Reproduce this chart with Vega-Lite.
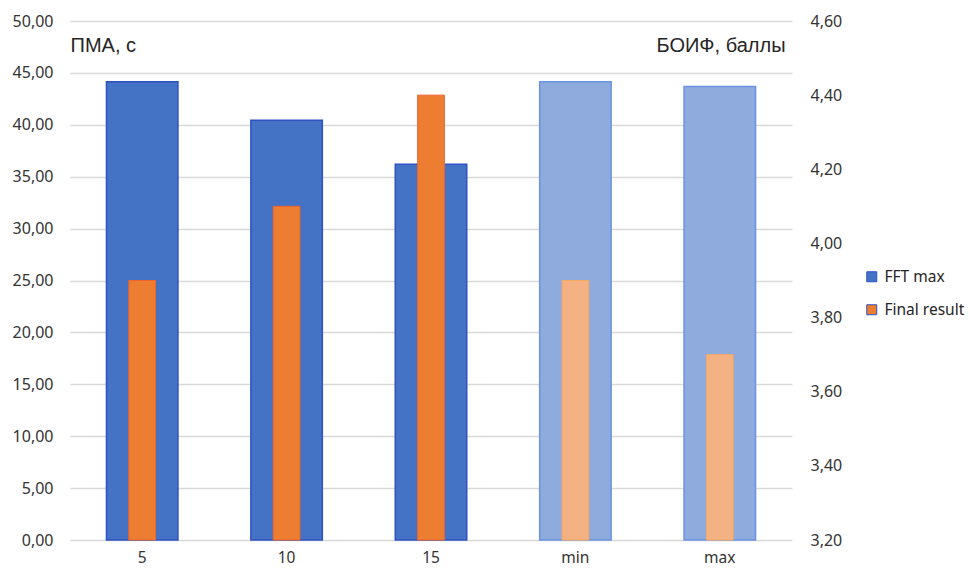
{
  "$schema": "https://vega.github.io/schema/vega-lite/v6.json",
  "autosize": "none",
  "width": 722,
  "height": 519,
  "padding": {"left": 70, "top": 21, "right": 178, "bottom": 29},
  "background": "white",
  "config": {
    "font": "Noto Sans",
    "view": {"stroke": null},
    "axis": {"labelColor": "#333333", "labelFontSize": 16, "titleColor": "#262626", "titleFontWeight": "normal", "titleFont": "Liberation Sans", "ticks": false, "domain": false}
  },
  "data": {
    "values": [
      {"cat": "5", "series": "FFT max", "value": 44.15},
      {"cat": "10", "series": "FFT max", "value": 40.45},
      {"cat": "15", "series": "FFT max", "value": 36.2},
      {"cat": "min", "series": "FFT max", "value": 44.15},
      {"cat": "max", "series": "FFT max", "value": 43.7},
      {"cat": "5", "series": "Final result", "value": 3.9},
      {"cat": "10", "series": "Final result", "value": 4.1},
      {"cat": "15", "series": "Final result", "value": 4.4},
      {"cat": "min", "series": "Final result", "value": 3.9},
      {"cat": "max", "series": "Final result", "value": 3.7}
    ]
  },
  "encoding": {
    "x": {
      "field": "cat", "type": "nominal", "sort": null,
      "scale": {"paddingInner": 0, "paddingOuter": 0},
      "axis": {"title": null, "labelAngle": 0, "labelPadding": 10, "grid": false, "labelFontSize": 15.5}
    }
  },
  "layer": [
    {
      "transform": [{"filter": "datum.series == 'FFT max'"}],
      "mark": {"type": "bar", "width": {"band": 0.495}, "strokeWidth": 1.5},
      "encoding": {
        "y": {
          "field": "value", "type": "quantitative",
          "scale": {"domain": [0, 50], "nice": false},
          "axis": {
            "values": [0, 5, 10, 15, 20, 25, 30, 35, 40, 45, 50],
            "labelExpr": "replace(format(datum.value, '.2f'), '.', ',')",
            "grid": true, "gridColor": "#D9D9D9", "gridWidth": 1.5,
            "labelPadding": 17,
            "title": "ПМА, с", "titleAngle": 0, "titleAlign": "left", "titleBaseline": "alphabetic",
            "titleX": 0, "titleY": 30, "titleFontSize": 20
          }
        },
        "color": {
          "condition": {"test": "indexof(['min','max'], datum.cat) >= 0", "value": "#8FAADC"},
          "field": "series", "type": "nominal",
          "scale": {"domain": ["FFT max", "Final result"], "range": ["#4472C4", "#ED7D31"]},
          "legend": {
            "title": null, "orient": "none", "legendX": 794, "legendY": 248,
            "symbolType": "square", "symbolSize": 100, "symbolStrokeWidth": 1,
            "labelFontSize": 15.5, "labelColor": "#262626", "rowPadding": 16, "labelOffset": 5
          }
        },
        "stroke": {
          "condition": {"test": "indexof(['min','max'], datum.cat) >= 0", "value": "#6A93E4"},
          "value": "#2F52C4"
        }
      }
    },
    {
      "transform": [{"filter": "datum.series == 'Final result'"}],
      "mark": {"type": "bar", "width": {"band": 0.185}, "strokeWidth": 1},
      "encoding": {
        "y": {
          "field": "value", "type": "quantitative",
          "scale": {"domain": [3.2, 4.6], "zero": false, "nice": false},
          "axis": {
            "orient": "right",
            "values": [3.2, 3.4, 3.6, 3.8, 4.0, 4.2, 4.4, 4.6],
            "labelExpr": "replace(format(datum.value, '.2f'), '.', ',')",
            "grid": false, "labelPadding": 18,
            "title": "БОИФ, баллы", "titleAngle": 0, "titleAlign": "right", "titleBaseline": "alphabetic",
            "titleX": -7, "titleY": 30, "titleFontSize": 20
          }
        },
        "y2": {"datum": 3.2},
        "color": {
          "condition": {"test": "indexof(['min','max'], datum.cat) >= 0", "value": "#F4B183"},
          "field": "series", "type": "nominal"
        },
        "stroke": {
          "condition": {"test": "indexof(['min','max'], datum.cat) >= 0", "value": "#F7A95C"},
          "value": "#F0642A"
        }
      }
    }
  ],
  "resolve": {"scale": {"y": "independent"}}
}
